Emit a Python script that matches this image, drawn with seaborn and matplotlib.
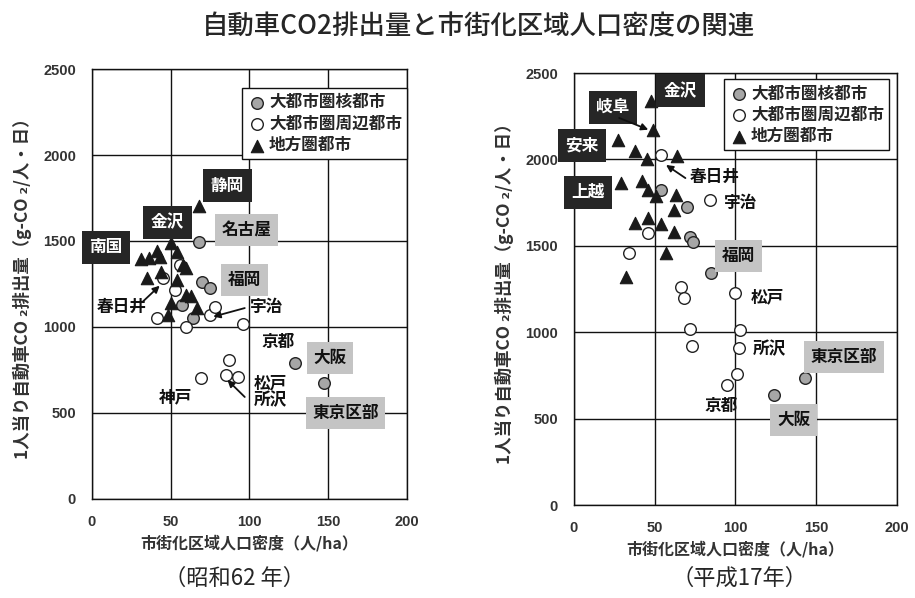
import numpy as np
import matplotlib.pyplot as plt
import seaborn as sns

sns.set_style("white")
plt.rcParams["font.family"] = ["Noto Sans CJK JP", "DejaVu Sans"]

CATS = ["大都市圏核都市", "大都市圏周辺都市", "地方圏都市"]

# 昭和62年 (left)
s62_core_x = [68, 70, 75, 57, 64, 129, 147]
s62_core_y = [1494, 1262, 1227, 1128, 1052, 791, 674]
s62_sub_x = [56, 45, 53, 41, 60, 75, 78, 96, 87, 85, 93, 69]
s62_sub_y = [1360, 1285, 1215, 1052, 1000, 1070, 1116, 1017, 808, 721, 709, 703]
s62_reg_x = [68, 50, 54, 31, 36, 41, 43, 58, 60, 35, 44, 54, 60, 63, 50, 48, 67]
s62_reg_y = [1703, 1488, 1436, 1395, 1400, 1442, 1407, 1360, 1343, 1285, 1320, 1273,
             1186, 1180, 1140, 1070, 1110]

# 平成17年 (right)
h17_core_x = [54, 70, 72, 74, 85, 124, 143]
h17_core_y = [1823, 1725, 1551, 1522, 1343, 637, 735]
h17_sub_x = [54, 84, 46, 34, 66, 68, 100, 72, 73, 103, 102, 101, 95]
h17_sub_y = [2025, 1765, 1574, 1458, 1262, 1198, 1227, 1018, 920, 1013, 909, 758, 694]
h17_reg_x = [48, 49, 27, 38, 45, 64, 29, 42, 46, 51, 63, 62, 38, 46, 54, 62, 57, 32]
h17_reg_y = [2338, 2170, 2110, 2050, 2003, 2020, 1863, 1875, 1823, 1788, 1794, 1707,
             1632, 1661, 1626, 1580, 1458, 1320]

# labels: (text, x, y, style)  style: dark / gray / plain
s62_labels = [
    ("静岡", 86, 1820, "dark"), ("金沢", 48, 1610, "dark"), ("南国", 9, 1465, "dark"),
    ("名古屋", 98, 1564, "gray"), ("福岡", 97, 1273, "gray"), ("大阪", 151, 820, "gray"),
    ("東京区部", 161, 500, "gray"), ("春日井", 19, 1116, "plain"), ("宇治", 111, 1116, "plain"),
    ("京都", 118, 913, "plain"), ("神戸", 53, 593, "plain"), ("松戸", 113, 674, "plain"),
    ("所沢", 113, 576, "plain"),
]
s62_arrows = [((32, 1145), (43, 1240)), ((97, 1110), (77, 1060)), ((97, 593), (86, 692))]

h17_labels = [
    ("金沢", 66, 2396, "dark"), ("岐阜", 24, 2303, "dark"), ("安来", 5, 2078, "dark"),
    ("上越", 8.5, 1811, "dark"), ("春日井", 87, 1898, "plain"), ("宇治", 103, 1748, "plain"),
    ("福岡", 102, 1441, "gray"), ("松戸", 119.5, 1204, "plain"), ("所沢", 121, 903, "plain"),
    ("東京区部", 167, 856, "gray"), ("京都", 91, 573, "plain"), ("大阪", 136, 492, "gray"),
]
h17_arrows = [((28, 2240), (46, 2172)), ((69, 1892), (57, 1968))]


def draw_panel(ax, core, sub, reg, labels, arrows, legend_anchor):
    sns.scatterplot(x=core[0], y=core[1], ax=ax, marker="o", color="#a6a6a6",
                    edgecolor="#222222", linewidth=1.0, s=70, label=CATS[0], zorder=3)
    sns.scatterplot(x=sub[0], y=sub[1], ax=ax, marker="o", color="white",
                    edgecolor="#222222", linewidth=1.0, s=70, label=CATS[1], zorder=3)
    sns.scatterplot(x=reg[0], y=reg[1], ax=ax, marker="^", color="#1a1a1a",
                    edgecolor="#1a1a1a", linewidth=0.8, s=80, label=CATS[2], zorder=4)
    ax.set_xlim(0, 200)
    ax.set_ylim(0, 2500)
    ax.set_xticks([0, 50, 100, 150, 200])
    ax.set_yticks([0, 500, 1000, 1500, 2000, 2500])
    ax.grid(True, color="#111111", linewidth=1.0)
    ax.set_axisbelow(True)
    for sp in ax.spines.values():
        sp.set_color("#111111")
        sp.set_linewidth(1.0)
    ax.tick_params(labelsize=10.5, colors="#333333", pad=8)
    for t in ax.get_xticklabels() + ax.get_yticklabels():
        t.set_fontweight("bold")
        t.set_family(["Liberation Sans", "DejaVu Sans"])
    ax.set_xlabel("市街化区域人口密度（人/ha）", fontsize=11.5, fontweight="bold", color="#333333")
    ax.set_ylabel("1人当り自動車CO ₂排出量（g-CO ₂/人・日）", fontsize=12.5,
                  fontweight="bold", color="#333333", labelpad=8)
    leg = ax.legend(loc="upper right", bbox_to_anchor=legend_anchor, fontsize=12,
                    frameon=True, fancybox=False, edgecolor="#111111", framealpha=1,
                    handletextpad=0.1, borderpad=0.3, labelspacing=0.2, borderaxespad=0,
                    handlelength=1.2)
    leg.get_frame().set_linewidth(1.0)
    for t in leg.get_texts():
        t.set_fontweight("bold")
    for text, x, y, style in labels:
        if style == "dark":
            ax.text(x, y, text, ha="center", va="center", fontsize=12, fontweight="bold",
                    color="white", zorder=6, clip_on=False,
                    bbox=dict(boxstyle="square,pad=0.45", fc="#262626", ec="none"))
        elif style == "gray":
            ax.text(x, y, text, ha="center", va="center", fontsize=12, fontweight="bold",
                    color="#111111", zorder=6, clip_on=False,
                    bbox=dict(boxstyle="square,pad=0.4", fc="#c4c4c4", ec="none"))
        else:
            ax.text(x, y, text, ha="center", va="center", fontsize=12, fontweight="bold",
                    color="#111111", zorder=6)
    for start, end in arrows:
        ax.annotate("", xy=end, xytext=start, zorder=7,
                    arrowprops=dict(arrowstyle="-|>", color="#111111", lw=1.3,
                                    mutation_scale=10, shrinkA=0, shrinkB=0))


fig = plt.figure(figsize=(9.15, 5.98), dpi=100)
ax1 = fig.add_axes([0.1005, 0.1656, 0.3443, 0.719])
ax2 = fig.add_axes([0.6273, 0.1555, 0.3530, 0.7224])

draw_panel(ax1, (s62_core_x, s62_core_y), (s62_sub_x, s62_sub_y), (s62_reg_x, s62_reg_y),
           s62_labels, s62_arrows, (1.0, 0.955))
draw_panel(ax2, (h17_core_x, h17_core_y), (h17_sub_x, h17_sub_y), (h17_reg_x, h17_reg_y),
           h17_labels, h17_arrows, (0.975, 0.985))

fig.text(0.523, 0.955, "自動車CO2排出量と市街化区域人口密度の関連", ha="center", va="center",
         fontsize=19, fontweight="medium")
fig.text(0.256, 0.033, "（昭和62 年）", ha="center", va="center", fontsize=16)
fig.text(0.808, 0.033, "（平成17年）", ha="center", va="center", fontsize=16)

fig.savefig("out.png", dpi=100)
